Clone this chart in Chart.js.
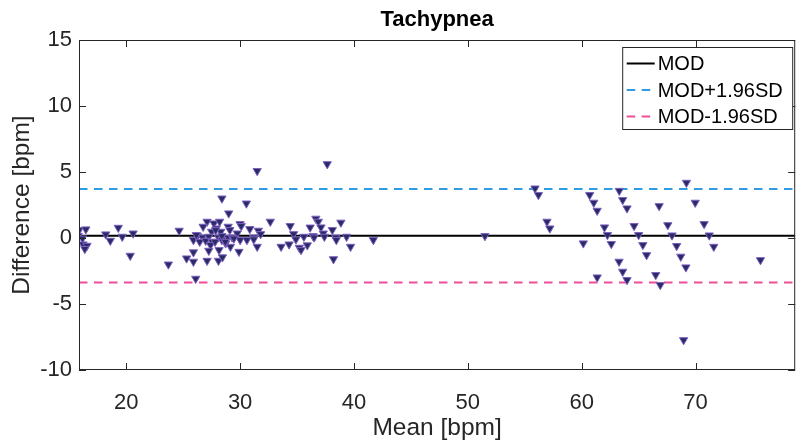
<!DOCTYPE html>
<html>
<head>
<meta charset="utf-8">
<script src="https://cdn.jsdelivr.net/npm/chart.js@4/dist/chart.umd.min.js"></script>
<style>
  html, body { margin: 0; padding: 0; background: #fff; }
</style>
</head>
<body>
<canvas id="baChart" width="801" height="440"></canvas>
<script>
// ===== Dados (Bland-Altman, Tachypnea) =====
const meanBpm = [
  15.86, 16.45, 15.78, 16.16, 16.20, 16.55, 16.36, 18.20, 18.60, 19.30,
  19.65, 20.60, 20.35, 23.70, 24.65, 26.10, 28.40, 30.55, 29.00, 31.50,
  37.65, 32.65, 27.10, 27.70, 28.20, 26.75, 28.95, 30.00, 30.10, 27.90,
  29.10, 30.85, 31.60, 31.80, 27.50, 28.30, 29.75, 26.25, 26.70, 27.25,
  28.10, 28.90, 29.30, 25.90, 26.45, 26.98, 27.55, 28.40, 28.73, 30.00,
  30.60, 31.20, 27.40, 29.15, 28.15, 25.90, 27.25, 29.90, 31.50, 25.30,
  25.90, 27.10, 28.10, 28.45, 28.40, 29.45, 28.70, 31.20, 27.80, 27.85,
  26.16, 33.60, 34.30, 34.40, 34.70, 34.90, 35.20, 35.35, 35.60, 35.90,
  36.15, 36.40, 36.65, 36.87, 37.10, 37.30, 37.40, 38.10, 38.40, 38.85,
  39.35, 39.70, 38.20, 41.70, 36.50, 38.45, 51.50, 55.90, 56.20, 56.95,
  57.20, 60.14, 60.70, 61.06, 61.36, 62.00, 62.26, 62.60, 61.36, 63.30,
  63.60, 63.98, 63.28, 63.60, 63.98, 64.60, 65.00, 65.37, 65.70, 66.80,
  66.50, 66.90, 67.56, 67.93, 68.34, 68.70, 69.15, 69.20, 69.97, 70.75,
  71.20, 71.60, 75.70, 68.95
];
const diffBpm = [
  0.60, 0.66, 0.17, -0.03, -0.48, -0.58, -0.83, 0.28, -0.20, 0.78,
  0.10, 0.35, -1.34, -2.00, 0.56, -3.08, 3.00, 2.62, 1.87, 5.08,
  5.60, 1.24, 1.24, 1.11, 1.24, 0.86, 0.86, 1.06, 0.91, 0.73,
  0.61, 0.68, 0.56, 0.30, 0.48, 0.48, 0.35, 0.15, 0.05, 0.10,
  0.05, 0.02, 0.05, -0.15, -0.28, -0.20, -0.28, -0.15, -0.40, -0.15,
  -0.15, 0.05, -0.53, -0.66, -0.91, -1.08, -0.96, -1.04, -0.66, -1.54,
  -1.79, -1.72, -1.72, -1.46, 0.15, -0.03, -0.28, -0.10, -0.28, 0.60,
  0.23, -0.66, -0.48, 0.91, 0.30, -0.10, -0.73, -0.91, 0.10, -0.55,
  0.80, 0.15, 1.47, 1.24, 0.81, 0.35, 0.10, 0.61, 0.05, 1.17,
  0.10, -0.66, -1.60, -0.15, 0.05, -0.15, 0.15, 3.76, 3.26, 1.24,
  0.73, -0.40, 3.26, 2.68, 2.07, 0.81, 0.23, -0.45, -2.98, 3.58,
  2.88, 2.25, -1.79, -2.55, -3.18, 0.91, 0.23, -0.53, -1.29, 2.42,
  -2.80, -3.56, 0.98, 0.20, -0.60, -1.41, -2.22, 4.19, 2.68, 1.06,
  0.20, -0.66, -1.67, -7.73
];

const modValue = 0.17;
const upperLoa = 3.72;
const lowerLoa = -3.38;

const xTicks = [20, 30, 40, 50, 60, 70];
const yTicks = [-10, -5, 0, 5, 10, 15];
const xRange = [15.85, 78.75];
const yRange = [-10, 15];

const FONTE = "'Liberation Sans', Arial, Helvetica, sans-serif";
const COR_EIXO = '#262626';

// ===== Caixa dos eixos com ticks para dentro (estilo MATLAB) =====
const caixaEixos = {
  id: 'caixaEixos',
  afterDatasetsDraw(chart) {
    const { ctx, chartArea: a, scales } = chart;
    const tl = 7;
    ctx.save();
    ctx.strokeStyle = COR_EIXO;
    ctx.lineWidth = 1;
    ctx.strokeRect(a.left + 0.5, a.top + 0.5, a.right - a.left - 1, a.bottom - a.top - 1);
    ctx.beginPath();
    xTicks.forEach(v => {
      const px = Math.round(scales.x.getPixelForValue(v)) + 0.5;
      ctx.moveTo(px, a.bottom); ctx.lineTo(px, a.bottom - tl);
      ctx.moveTo(px, a.top); ctx.lineTo(px, a.top + tl);
    });
    yTicks.forEach(v => {
      const py = Math.round(scales.y.getPixelForValue(v)) + 0.5;
      ctx.moveTo(a.left, py); ctx.lineTo(a.left + tl, py);
      ctx.moveTo(a.right, py); ctx.lineTo(a.right - tl, py);
    });
    ctx.stroke();
    ctx.restore();
  }
};

// ===== Legenda dentro da área do gráfico =====
const legendaInterna = {
  id: 'legendaInterna',
  afterDraw(chart) {
    const { ctx, chartArea: a } = chart;
    const linhas = chart.data.datasets.filter(d => d.showLine);
    const w = 170, h = 82;
    const x0 = a.right - w - 2.5, y0 = a.top + 7.5;
    ctx.save();
    ctx.fillStyle = '#fff';
    ctx.fillRect(x0, y0, w, h);
    ctx.strokeStyle = COR_EIXO;
    ctx.lineWidth = 1;
    ctx.strokeRect(x0, y0, w, h);
    ctx.font = '20px ' + FONTE;
    ctx.textBaseline = 'middle';
    linhas.forEach((d, i) => {
      const cy = y0 + 16 + i * 26.5;
      ctx.beginPath();
      ctx.strokeStyle = d.borderColor;
      ctx.lineWidth = d.borderWidth;
      ctx.setLineDash(d.borderDash || []);
      ctx.moveTo(x0 + 4, cy);
      ctx.lineTo(x0 + 32, cy);
      ctx.stroke();
      ctx.setLineDash([]);
      ctx.fillStyle = '#000';
      ctx.fillText(d.label, x0 + 35, cy + 1);
    });
    ctx.restore();
  }
};

function linhaHorizontal(label, valor, cor, tracejado) {
  return {
    label: label,
    data: [{ x: xRange[0], y: valor }, { x: xRange[1], y: valor }],
    showLine: true,
    borderColor: cor,
    borderWidth: 2,
    borderDash: tracejado,
    pointRadius: 0,
    fill: false,
    order: 1
  };
}

function renderizarGrafico() {
  const ctx = document.getElementById('baChart');
  if (!ctx) return;

  new Chart(ctx, {
    type: 'scatter',
    data: {
      datasets: [
        {
          label: 'Dados',
          data: meanBpm.map((m, i) => ({ x: m, y: diffBpm[i] })),
          pointStyle: 'triangle',
          rotation: 180,
          radius: 4.8,
          backgroundColor: '#272b66',
          borderColor: '#8060c0',
          borderWidth: 1,
          order: 0
        },
        linhaHorizontal('MOD', modValue, '#000000', []),
        linhaHorizontal('MOD+1.96SD', upperLoa, '#2f9be0', [8.5, 6.5]),
        linhaHorizontal('MOD-1.96SD', lowerLoa, '#ee4f99', [8.5, 6.5])
      ]
    },
    options: {
      responsive: false,
      animation: false,
      devicePixelRatio: 1,
      layout: { padding: { left: 0, right: 1, top: 0, bottom: 0 } },
      plugins: {
        legend: { display: false },
        tooltip: { enabled: false },
        title: {
          display: true,
          fullSize: false,
          text: 'Tachypnea',
          color: '#000',
          font: { family: FONTE, size: 22, weight: 'bold', lineHeight: 1.2 },
          padding: { top: 6.8, bottom: 6.8 }
        }
      },
      scales: {
        x: {
          type: 'linear',
          min: xRange[0],
          max: xRange[1],
          afterFit: s => { s.height = 70; },
          afterBuildTicks: s => { s.ticks = xTicks.map(v => ({ value: v })); },
          grid: { display: false, drawTicks: false },
          border: { display: false },
          ticks: { color: COR_EIXO, font: { family: FONTE, size: 22 }, padding: 20, maxRotation: 0, autoSkip: false },
          title: { display: true, text: 'Mean [bpm]', color: COR_EIXO, font: { family: FONTE, size: 24.5, lineHeight: 1 }, padding: { top: 1, bottom: 0 } }
        },
        y: {
          type: 'linear',
          min: yRange[0],
          max: yRange[1],
          afterFit: s => { s.width = 79; },
          afterBuildTicks: s => { s.ticks = yTicks.map(v => ({ value: v })); },
          grid: { display: false, drawTicks: false },
          border: { display: false },
          ticks: { color: COR_EIXO, font: { family: FONTE, size: 22 }, padding: 7, autoSkip: false },
          title: { display: true, text: 'Difference [bpm]', color: COR_EIXO, font: { family: FONTE, size: 24.5, lineHeight: 1 }, padding: { top: 9.5, bottom: 0 } }
        }
      }
    },
    plugins: [caixaEixos, legendaInterna]
  });
}

renderizarGrafico();
</script>
</body>
</html>
